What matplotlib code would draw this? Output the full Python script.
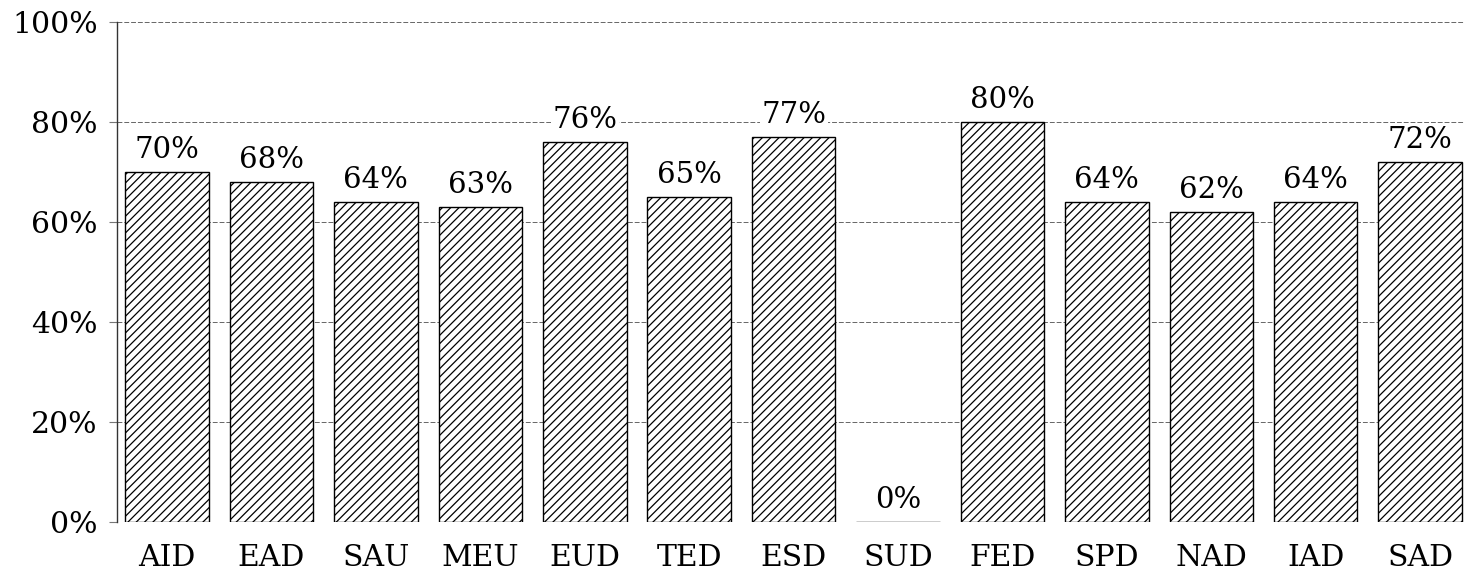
import matplotlib.pyplot as plt
import numpy as np

categories = ['AID', 'EAD', 'SAU', 'MEU', 'EUD', 'TED', 'ESD', 'SUD',
              'FED', 'SPD', 'NAD', 'IAD', 'SAD']
values = [70, 68, 64, 63, 76, 65, 77, 0, 80, 64, 62, 64, 72]
yticks = [0, 20, 40, 60, 80, 100]

plt.rcParams['font.family'] = 'DejaVu Serif'
plt.rcParams['hatch.linewidth'] = 0.9

fig = plt.figure(figsize=(14.64, 5.76), dpi=100)
ax = fig.add_axes([0.0799, 0.0938, 0.9201, 0.868])

x = np.arange(len(categories))
ax.bar(x, values, width=0.8, color='white', edgecolor='black',
       linewidth=1.0, hatch='////', zorder=3)

for xi, v in zip(x, values):
    ax.annotate(f'{v}%', (xi, v), xytext=(0, 6), textcoords='offset points',
                ha='center', va='bottom', fontsize=21, zorder=4,
                bbox=dict(facecolor='white', edgecolor='none', pad=1))

ax.set_xlim(-0.48, 12.42)
ax.set_ylim(0, 100)
ax.set_yticks(yticks)
ax.set_yticklabels([f'{t}%' for t in yticks], fontsize=21.5)
ax.set_xticks(x)
ax.set_xticklabels(categories, fontsize=21.5)
ax.tick_params(axis='x', length=0, pad=16)
ax.tick_params(axis='y', length=6, width=0.8, color='#777777', pad=8)

ax.grid(axis='y', color='#666666', linestyle=(0, (5, 2)), linewidth=0.7, zorder=0)
for s in ['top', 'right', 'bottom']:
    ax.spines[s].set_visible(False)
ax.spines['left'].set_linewidth(1.0)
ax.spines['left'].set_color('#333333')

fig.savefig('out.png', dpi=100)
